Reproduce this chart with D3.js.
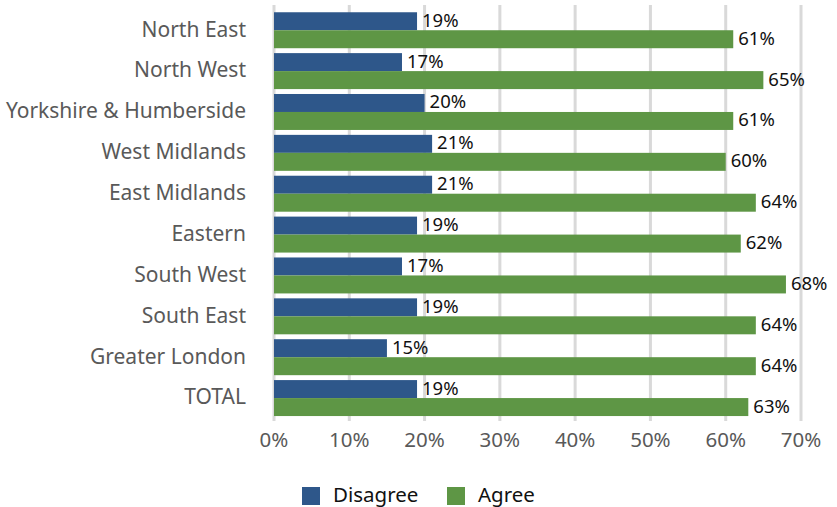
<!DOCTYPE html>
<html><head><meta charset="utf-8">
<script src="https://cdn.jsdelivr.net/npm/d3@7"></script>
<style>body{margin:0;background:#fff}svg{display:block}</style>
</head><body>
<script>
const categories = ["North East","North West","Yorkshire & Humberside","West Midlands","East Midlands","Eastern","South West","South East","Greater London","TOTAL"];
const disagree = [19,17,20,21,21,19,17,19,15,19];
const agree = [61,65,61,60,64,62,68,64,64,63];
const ticks = [0,10,20,30,40,50,60,70];
const seriesNames = ["Disagree","Agree"];
const colors = ["#2E578A","#5E9645"];

const W=837,H=507;
const svg=d3.select("body").append("svg").attr("width",W).attr("height",H);
const font="'Noto Sans', sans-serif";
const x=d3.scaleLinear().domain([0,70]).range([274,801]);
const y=d3.scaleBand().domain(categories).range([9.8,418.5]).paddingInner(0.12).paddingOuter(0.06);
const yTop=5,yBot=421;

svg.append("g").selectAll("line").data(ticks).join("line")
  .attr("x1",d=>x(d)).attr("x2",d=>x(d)).attr("y1",yTop).attr("y2",yBot)
  .attr("stroke","#d9d9d9").attr("stroke-width",3);

const rows = categories.map((c,i)=>({c,vals:[disagree[i],agree[i]]}));
const g=svg.append("g");
rows.forEach(r=>{
  const bh=y.bandwidth()/2;
  r.vals.forEach((v,k)=>{
    const yy=y(r.c)+k*bh;
    g.append("rect").attr("x",x(0)).attr("y",yy).attr("width",x(v)-x(0)).attr("height",bh).attr("fill",colors[k]);
    g.append("text").attr("x",x(v)+5).attr("y",yy+bh/2-1).attr("dy","0.35em")
      .attr("font-family",font).attr("font-size",18.5).attr("fill","#111").text(v+"%");
  });
});

svg.append("g").selectAll("text").data(categories).join("text")
  .attr("x",246).attr("y",d=>y(d)+y.bandwidth()/2-1).attr("dy","0.35em").attr("text-anchor","end")
  .attr("font-family",font).attr("font-size",21).attr("fill","#595959").text(d=>d);

svg.append("g").selectAll("text").data(ticks).join("text")
  .attr("x",d=>x(d)).attr("y",440).attr("dy","0.35em").attr("text-anchor","middle")
  .attr("font-family",font).attr("font-size",20.5).attr("fill","#595959").text(d=>d+"%");

const leg=svg.append("g");
const lx=[302,447];
seriesNames.forEach((n,i)=>{
  leg.append("rect").attr("x",lx[i]).attr("y",487).attr("width",18).attr("height",18).attr("fill",colors[i]);
  leg.append("text").attr("x",lx[i]+31).attr("y",495).attr("dy","0.35em")
    .attr("font-family",font).attr("font-size",20.5).attr("fill","#111").text(n);
});
</script>
</body></html>
